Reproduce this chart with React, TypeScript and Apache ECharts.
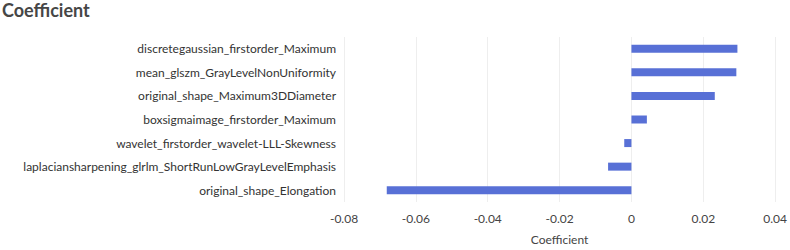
import React, { useEffect, useRef } from "react";
import * as echarts from "echarts";

const features = [
  "discretegaussian_firstorder_Maximum",
  "mean_glszm_GrayLevelNonUniformity",
  "original_shape_Maximum3DDiameter",
  "boxsigmaimage_firstorder_Maximum",
  "wavelet_firstorder_wavelet-LLL-Skewness",
  "laplaciansharpening_glrlm_ShortRunLowGrayLevelEmphasis",
  "original_shape_Elongation",
];
const coefficients = [0.0295, 0.0292, 0.0232, 0.0043, -0.002, -0.0065, -0.0681];

export default function App() {
  const ref = useRef<HTMLDivElement>(null);
  useEffect(() => {
    document.body.style.margin = "0";
    const chart = echarts.init(ref.current!, null, { renderer: "svg" });
    const font = "Lato, 'Open Sans', sans-serif";
    chart.setOption({
      animation: false,
      textStyle: { fontFamily: font },
      title: {
        text: "Coefficient",
        left: 0,
        top: 0,
        padding: [1, 2],
        textStyle: { fontSize: 18, fontWeight: "bold", color: "#464646", fontFamily: font },
      },
      grid: { left: 344, right: 11, top: 37, bottom: 45, containLabel: false },
      xAxis: {
        type: "value",
        min: -0.08,
        max: 0.04,
        interval: 0.02,
        name: "Coefficient",
        nameLocation: "middle",
        nameGap: 31,
        nameTextStyle: { fontSize: 12, color: "#444", fontFamily: font },
        axisLine: { show: false },
        axisTick: { show: false },
        axisLabel: { fontSize: 12, color: "#444", margin: 10, formatter: (v: number) => (v === 0 ? "0" : String(Number(v.toFixed(2)))) },
        splitLine: { show: true, lineStyle: { color: "#eeeeee" } },
      },
      yAxis: {
        type: "category",
        data: features,
        inverse: true,
        axisLine: { show: false },
        axisTick: { show: false },
        axisLabel: { fontSize: 12, color: "#333", margin: 8 },
        splitLine: { show: false },
      },
      series: [
        {
          type: "bar",
          data: coefficients,
          barWidth: 8,
          itemStyle: { color: "#5870d6" },
        },
      ],
    });
    return () => chart.dispose();
  }, []);
  return <div ref={ref} style={{ width: 790, height: 250 }} />;
}
